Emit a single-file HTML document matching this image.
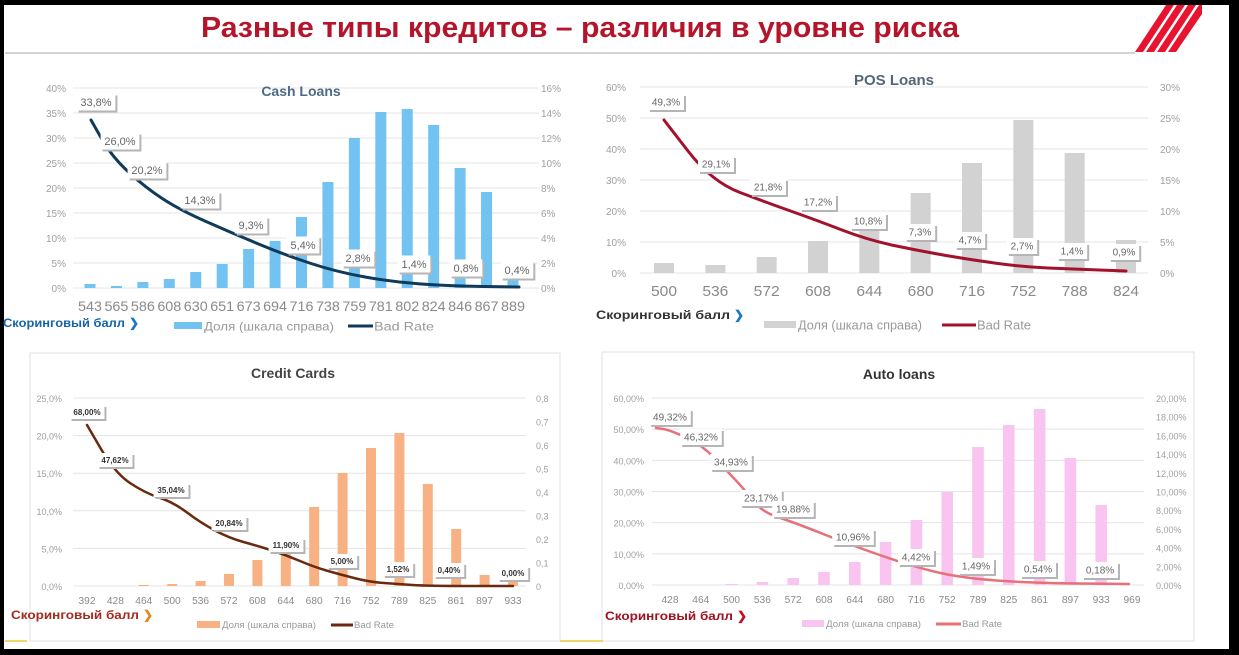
<!DOCTYPE html>
<html><head><meta charset="utf-8">
<style>
html,body{margin:0;padding:0;background:#000;}
#wrap{position:relative;width:1239px;height:655px;background:#000;overflow:hidden;}
svg{position:absolute;left:0;top:0;}
text{font-family:"Liberation Sans",sans-serif;}
</style></head>
<body><div id="wrap">
<svg id="s" width="1239" height="655" viewBox="0 0 1239 655" xmlns="http://www.w3.org/2000/svg">
<rect x="4" y="5" width="1225" height="644" fill="#fff"/>
<line x1="5" y1="53" x2="1135" y2="53" stroke="#bbb" stroke-width="1.2"/>
<text x="580" y="37" text-anchor="middle" font-size="29" font-weight="bold" fill="#b5152b" textLength="758" lengthAdjust="spacingAndGlyphs">Разные типы кредитов – различия в уровне риска</text>
<g fill="#e8132f">
<polygon points="1135,52 1143,52 1174,5 1166,5"/>
<polygon points="1146,52 1154,52 1185,5 1177,5"/>
<polygon points="1157,52 1165,52 1196,5 1188,5"/>
<polygon points="1168,52 1176,52 1202,14 1202,5 1199,5"/>
</g>
<rect x="30" y="353" width="530" height="288" fill="none" stroke="#e2e2e2"/>
<rect x="602" y="352" width="592" height="289" fill="none" stroke="#e2e2e2"/>
<line x1="5" y1="641" x2="27" y2="641" stroke="#f2d46a" stroke-width="2"/>
<line x1="560" y1="641" x2="603" y2="641" stroke="#f2d46a" stroke-width="2"/>
<g id="g"></g>
</svg>
</div>
<script>
var g=document.getElementById('g'),h='';
function T(x,y,s,o){o=o||{};h+='<text x="'+x+'" y="'+y+'" font-size="'+(o.fs||11)+'" fill="'+(o.c||'#999')+'"'+(o.a?' text-anchor="'+o.a+'"':'')+(o.b?' font-weight="bold"':'')+(o.tl?' textLength="'+o.tl+'" lengthAdjust="spacingAndGlyphs"':'')+'>'+s+'</text>';}
function panel(p){
 // grid + left labels
 for(var i=0;i<p.ll.length;i++){var y=p.y0+(p.y1-p.y0)*i/(p.ll.length-1);
  h+='<line x1="'+p.gx0+'" y1="'+y+'" x2="'+p.gx1+'" y2="'+y+'" stroke="#e4e4e4" stroke-width="1"/>';
  T(p.lx,y+4,p.ll[i],{a:'end',fs:p.afs,c:'#a0a0a0'});}
 for(var i=0;i<p.rl.length;i++){var y=p.y0+(p.y1-p.y0)*i/(p.rl.length-1);T(p.rx,y+4,p.rl[i],{fs:p.afs,c:'#a0a0a0'});}
 var n=p.cats.length,sp=(p.cx1-p.cx0)/(n-1);
 for(var i=0;i<n;i++){var x=p.cx0+sp*i;
  if(p.bars[i]>0&&p.bars[i]<p.y1){h+='<rect x="'+(x-p.bw/2)+'" y="'+p.bars[i]+'" width="'+p.bw+'" height="'+(p.y1-p.bars[i])+'" fill="'+p.bc+'"/>';}
  T(x,p.xly,p.cats[i],{a:'middle',fs:p.xfs,c:'#8a8a8a',tl:p.xtl});}
 // line
 var d='M'+p.line[0].join(',');
 for(var i=1;i<p.line.length;i++){var a=p.line[i-1],b=p.line[i];var mx=(a[0]+b[0])/2;d+=' Q'+a[0]+','+a[1]+' '+mx+','+((a[1]+b[1])/2);}
 var l=p.line[p.line.length-1];d+=' L'+l[0]+','+l[1];
 h+='<path d="'+d+'" fill="none" stroke="'+p.lc+'" stroke-width="'+p.lw+'" stroke-linejoin="round" stroke-linecap="round"/>';
 // labels
 p.labs.forEach(function(L){var w=L[2].length*p.lfs*0.56+8,hh=p.lfs+6;var x=L[0]-w/2,y=L[1]-hh/2;
  h+='<rect x="'+(x+2)+'" y="'+(y+2)+'" width="'+w+'" height="'+hh+'" fill="#b5b5b5"/>';
  h+='<rect x="'+x+'" y="'+y+'" width="'+w+'" height="'+hh+'" fill="#fff"/>';
  T(L[0],L[1]+p.lfs*0.36,L[2],{a:'middle',fs:p.lfs,c:p.ltc,b:p.lb});});
 T(p.tx,p.ty,p.title,{a:'middle',fs:p.tfs,c:p.tc,b:true});
 T(p.sx,p.sy,'Скоринговый балл',{fs:p.sfs,c:p.sc,b:true,tl:p.stl});
 T(p.sx+p.stl+4,p.sy,'❯',{fs:p.sfs,c:p.ac,b:true});
 var lg=p.lg;
 h+='<rect x="'+lg[0]+'" y="'+(lg[4]-4)+'" width="'+(lg[1]-lg[0])+'" height="7" fill="'+p.bc+'"/>';
 T(lg[1]+2,lg[4]+p.lgfs*0.36,'Доля (шкала справа)',{fs:p.lgfs,c:'#999',tl:lg[5]});
 h+='<line x1="'+lg[2]+'" y1="'+lg[4]+'" x2="'+lg[3]+'" y2="'+lg[4]+'" stroke="'+p.lc+'" stroke-width="3"/>';
 T(lg[3]+1,lg[4]+p.lgfs*0.36,'Bad Rate',{fs:p.lgfs,c:'#999',tl:lg[6]});
}
panel({y0:88,y1:288,gx0:73,gx1:539,lx:66,rx:541,afs:10,ll:['40%','35%','30%','25%','20%','15%','10%','5%','0%'],rl:['16%','14%','12%','10%','8%','6%','4%','2%','0%'],
 cats:['543','565','586','608','630','651','673','694','716','738','759','781','802','824','846','867','889'],cx0:90,cx1:513,xly:311,xfs:14,xtl:24,
 bars:[284,286,282,279,272,264,249,241,217,182,138,112,109,125,168,192,279],bw:11,bc:'#72c3f1',
 line:[[91,120],[112,157],[146,188],[180,210],[232,233],[285,255],[337,272],[393,282],[449,286],[519,287]],lc:'#0f3a5a',lw:3,
 labs:[[96,102,'33,8%'],[120,141,'26,0%'],[147,170,'20,2%'],[200,200,'14,3%'],[251,225,'9,3%'],[303,245,'5,4%'],[358,258,'2,8%'],[414,264,'1,4%'],[466,268,'0,8%'],[517,270,'0,4%']],lfs:11,ltc:'#666',lb:false,
 title:'Cash Loans',tx:301,ty:96,tfs:14,tc:'#4d6b86',sx:3,sy:327,sfs:12,sc:'#1565a8',ac:'#1a78c2',stl:122,
 lg:[174,202,348,373,326,130,60],lgfs:12});
panel({y0:87,y1:273,gx0:640,gx1:1148,lx:626,rx:1160,afs:10,ll:['60%','50%','40%','30%','20%','10%','0%'],rl:['30%','25%','20%','15%','10%','5%','0%'],
 cats:['500','536','572','608','644','680','716','752','788','824'],cx0:664,cx1:1126,xly:296,xfs:15,xtl:26,
 bars:[263,265,257,241,230,193,163,120,153,240],bw:20,bc:'#d2d2d2',
 line:[[664,120],[712,182],[768,203],[816,220],[868,240],[920,251],[972,260],[1024,267],[1072,269],[1126,271]],lc:'#a3122c',lw:3,
 labs:[[666,102,'49,3%'],[716,164,'29,1%'],[768,187,'21,8%'],[818,202,'17,2%'],[868,221,'10,8%'],[920,232,'7,3%'],[970,240,'4,7%'],[1022,246,'2,7%'],[1072,251,'1,4%'],[1124,252,'0,9%']],lfs:10,ltc:'#666',lb:false,
 title:'POS Loans',tx:894,ty:85,tfs:15,tc:'#55667a',sx:596,sy:319,sfs:12,sc:'#333',ac:'#1a78c2',stl:134,
 lg:[764,796,942,976,325,124,54],lgfs:13});
panel({y0:398,y1:586,gx0:73,gx1:526,lx:62,rx:536,afs:9,ll:['25,0%','20,0%','15,0%','10,0%','5,0%','0,0%'],rl:['0,8','0,7','0,6','0,5','0,4','0,3','0,2','0,1','0'],
 cats:['392','428','464','500','536','572','608','644','680','716','752','789','825','861','897','933'],cx0:87,cx1:513,xly:604,xfs:10,xtl:17,
 bars:[0,0,585,584,581,574,560,552,507,473,448,433,484,529,575,582],bw:10,bc:'#f7b183',
 line:[[87,425],[115,473],[145,493],[173,502],[201,523],[229,538],[258,546],[286,555],[314,567],[342,575],[370,582],[398,584],[427,586],[513,586]],lc:'#6a2a10',lw:2.5,
 labs:[[87,412,'68,00%'],[115,460,'47,62%'],[171,490,'35,04%'],[229,523,'20,84%'],[286,545,'11,90%'],[342,561,'5,00%'],[398,569,'1,52%'],[449,570,'0,40%'],[513,573,'0,00%']],lfs:8,ltc:'#333',lb:true,
 title:'Credit Cards',tx:293,ty:378,tfs:14,tc:'#444',sx:11,sy:619,sfs:12,sc:'#a32a1c',ac:'#e08a1e',stl:128,
 lg:[197,220,331,353,625,94,40],lgfs:9});
panel({y0:398,y1:585,gx0:652,gx1:1144,lx:644,rx:1156,afs:9,ll:['60,00%','50,00%','40,00%','30,00%','20,00%','10,00%','0,00%'],rl:['20,00%','18,00%','16,00%','14,00%','12,00%','10,00%','8,00%','6,00%','4,00%','2,00%','0,00%'],
 cats:['428','464','500','536','572','608','644','680','716','752','789','825','861','897','933','969'],cx0:670,cx1:1132,xly:603,xfs:10,xtl:17,
 bars:[0,0,584,582,578,572,562,542,520,492,447,425,409,458,505,0],bw:11.6,bc:'#f9c4ef',
 line:[[656,428],[670,430],[702,445],[727,471],[744,489],[762,512],[793,522],[856,547],[918,568],[963,578],[1030,583],[1129,584]],lc:'#e8707a',lw:2.5,
 labs:[[670,417,'49,32%'],[701,437,'46,32%'],[731,462,'34,93%'],[761,498,'23,17%'],[793,509,'19,88%'],[853,537,'10,96%'],[916,557,'4,42%'],[976,566,'1,49%'],[1038,569,'0,54%'],[1100,570,'0,18%']],lfs:10,ltc:'#666',lb:false,
 title:'Auto loans',tx:899,ty:379,tfs:14,tc:'#333',sx:605,sy:620,sfs:12,sc:'#a01020',ac:'#c0102a',stl:128,
 lg:[802,824,936,961,624,95,40],lgfs:9});
g.innerHTML=h;
</script>
</body></html>
